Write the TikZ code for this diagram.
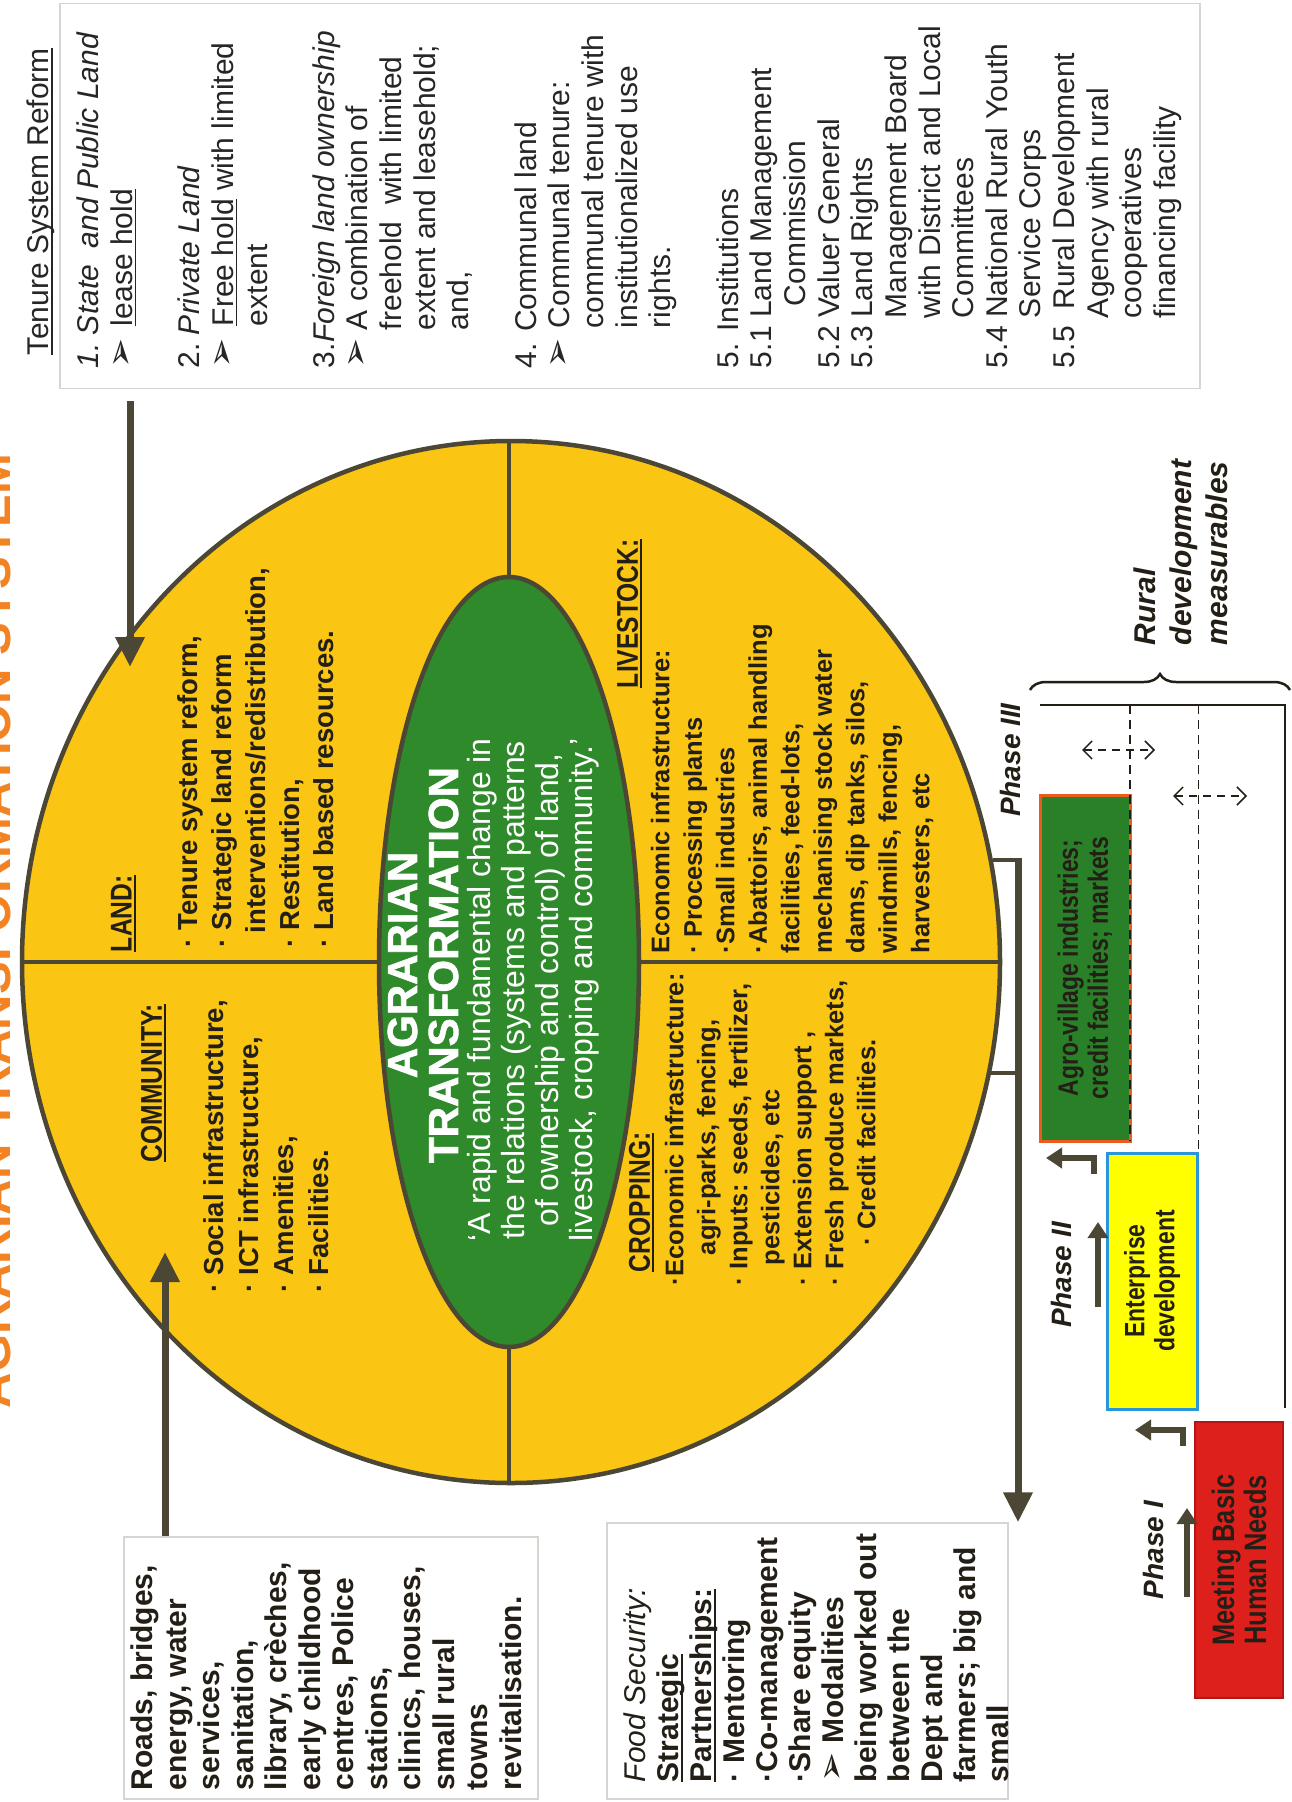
\documentclass[tikz,border=0pt]{standalone}
\usepackage{fontspec}
\setmainfont{Liberation Sans}
\newfontfamily\narrowfont{Liberation Sans}[FakeStretch=0.82]
\newfontfamily\symfont{DejaVu Sans}
\newfontfamily\heavyfont{Liberation Sans}[FakeBold=1.5]
\usetikzlibrary{arrows.meta,decorations.pathreplacing,shapes.geometric}

\definecolor{gold}{RGB}{251,197,20}
\definecolor{olive}{RGB}{76,70,52}
\definecolor{agrigreen}{RGB}{46,138,42}
\definecolor{ink}{RGB}{35,30,22}
\definecolor{greyink}{RGB}{38,38,38}
\definecolor{boxline}{RGB}{214,214,208}
\definecolor{titleorange}{RGB}{242,130,34}
\definecolor{phasered}{RGB}{222,32,28}
\definecolor{redline}{RGB}{180,20,20}
\definecolor{phaseyellow}{RGB}{255,255,0}
\definecolor{phaseblue}{RGB}{40,150,215}
\definecolor{boxgreen}{RGB}{42,128,40}
\definecolor{boxorange}{RGB}{235,90,30}

\newsavebox\ulbox
\newcommand\myul[1]{\sbox\ulbox{#1}\rlap{\rule[-4pt]{\wd\ulbox}{1.8pt}}\usebox\ulbox}
\newcommand\fsz[2]{\fontsize{#1}{#2}\selectfont}
\newcommand\arr{{\symfont\fontsize{36}{30}\selectfont ➢}}

\tikzset{
  rtext/.style={rotate=90, anchor=north west, align=left, inner sep=0pt, outer sep=0pt, text=ink},
  panel/.style={draw=boxline, line width=1.5pt, fill=white, rectangle, inner sep=0pt},
  bigarrow/.style={draw=olive, line width=7pt, -{Triangle[length=30pt,width=28pt]}},
  phasearrow/.style={draw=olive, line width=6pt, -{Triangle[length=16pt,width=20pt]}},
  phasebox/.style={rectangle, rotate=90, inner sep=0pt, align=center, text=ink, font=\narrowfont\bfseries\fsz{28}{30}},
  phaselabel/.style={rotate=90, font=\bfseries\itshape\fsz{28}{30}, text=ink, inner sep=0pt},
  dashline/.style={draw=ink, line width=1.5pt, dash pattern=on 9pt off 6pt},
  dblarrow/.style={draw=ink, line width=1.5pt, dash pattern=on 8pt off 6pt, {Straight Barb[length=9pt,width=18pt]}-{Straight Barb[length=9pt,width=18pt]}},
}

\begin{document}
\begin{tikzpicture}[x=1pt,y=-1pt]
\useasboundingbox (0,0) rectangle (1291,1802);
\fill[white] (0,0) rectangle (1291,1802);

% title (cut off at the page edge, as in the source)
\node[rotate=90, anchor=base, font=\bfseries\fsz{49}{52}, text=titleorange, inner sep=0pt] (title) at (10,931) {AGRARIAN TRANSFORMATION SYSTEM};

% side panels
\node[panel, minimum width=1140pt, minimum height=385pt] (tenurebox) at (630,196) {};
\node[panel, minimum width=414pt, minimum height=262pt] (roadsbox) at (331,1668) {};
\node[panel, minimum width=401pt, minimum height=276pt] (foodbox) at (807.5,1661) {};

% tenure text
\node[rtext, text=greyink, font=\fsz{30}{33}] (tenurehead) at (27,355) {\myul{Tenure System Reform}};
\node[rtext, text=greyink, font=\fsz{30}{33.65}] (tenuretext) at (77,368) {%
\makebox[33pt][l]{\textit{1.}}\textit{State \ and Public Land}\\
\makebox[42pt][l]{\arr}\myul{lease hold}\\[33.65pt]
\makebox[33pt][l]{2.}\textit{Private Land}\\
\makebox[42pt][l]{\arr}\myul{Free hold} with limited\\
\hspace*{42pt}extent\\[33.65pt]
3.\textit{Foreign land ownership}\\
\makebox[38pt][l]{\arr}A combination of\\
\hspace*{38pt}freehold \ with limited\\
\hspace*{38pt}extent and leasehold;\\
\hspace*{38pt}and,\\[33.65pt]
4. Communal land\\
\makebox[40pt][l]{\arr}Communal tenure:\\
\hspace*{40pt}communal tenure with\\
\hspace*{40pt}institutionalized use\\
\hspace*{40pt}rights.\\[33.65pt]
5. Institutions\\
5.1 Land Management\\
\hspace*{62pt}Commission\\
5.2 Valuer General\\
5.3 Land Rights\\
\hspace*{50pt}Management Board\\
\hspace*{50pt}with District and Local\\
\hspace*{50pt}Committees\\
5.4 National Rural Youth\\
\hspace*{50pt}Service Corps\\
5.5 \ Rural Development\\
\hspace*{50pt}Agency with rural\\
\hspace*{50pt}cooperatives\\
\hspace*{50pt}financing facility};

% roads text
\node[rtext, font=\bfseries\fsz{30}{33.5}] (roadstext) at (131,1790) {Roads, bridges,\\energy, water\\services,\\sanitation,\\library, crèches,\\early childhood\\centres, Police\\stations,\\clinics, houses,\\small rural\\towns\\revitalisation.};

% food security text
\node[rtext, font=\bfseries\fsz{30}{33}] (foodtext) at (624,1782) {{\mdseries\itshape Food Security:}\\\myul{Strategic}\\\myul{Partnerships:}\\· Mentoring\\·Co-management\\·Share equity\\\arr\ Modalities\\being worked out\\between the\\Dept and\\farmers; big and\\small};

% the big disc and its core
\node[ellipse, draw=olive, line width=4.5pt, fill=gold, minimum width=978pt, minimum height=1042pt, inner sep=0pt] (disc) at (511,962) {};
\node[ellipse, draw=olive, line width=4.5pt, fill=agrigreen, minimum width=260pt, minimum height=770pt, inner sep=0pt] (core) at (509,962) {};
\draw[olive, line width=3.5pt] (disc.west) -- (core.west);
\draw[olive, line width=3.5pt] (core.east) -- (disc.east);
\draw[olive, line width=3.5pt] (core.north |- disc.north) -- (core.north);
\draw[olive, line width=3.5pt] (core.south) -- (core.south |- disc.south);

% core text
\node[rotate=90, align=center, text=white, font=\heavyfont\bfseries\fsz{42}{41}, inner sep=0pt] (heading) at (423,965) {AGRARIAN\\TRANSFORMATION};
\node[rotate=90, align=center, text=white, font=\fsz{32}{34}, inner sep=0pt] (quote) at (533,990) {‘A rapid and fundamental change in\\the relations (systems and patterns\\of ownership and control) of land,\\livestock, cropping and community.’};

% quadrants
\node[rtext, font=\narrowfont\bfseries\fsz{30}{34}] (landhead) at (111,952) {\myul{LAND:}};
\node[rtext, font=\bfseries\fsz{27.5}{34}] (landtext) at (178,947) {· Tenure system reform,\\· Strategic land reform\\\hspace*{14pt}interventions/redistribution,\\· Restitution,\\· Land based resources.};

\node[rtext, font=\narrowfont\bfseries\fsz{30}{34}] (commhead) at (141,1162) {\myul{COMMUNITY:}};
\node[rtext, font=\bfseries\fsz{27.5}{35}] (commtext) at (204,1292) {· Social infrastructure,\\· ICT infrastructure,\\· Amenities,\\· Facilities.};

\node[rtext, font=\narrowfont\bfseries\fsz{30}{34}] (livehead) at (617,688) {\myul{LIVESTOCK:}};
\node[rtext, font=\bfseries\fsz{25.5}{32.5}] (livetext) at (651,953) {Economic infrastructure:\\· Processing plants\\·Small industries\\·Abattoirs, animal handling\\facilities, feed-lots,\\mechanising stock water\\dams, dip tanks, silos,\\windmills, fencing,\\harvesters, etc};

\node[rtext, font=\narrowfont\bfseries\fsz{30}{34}] (crophead) at (629,1272) {\myul{CROPPING:}};
\node[rtext, font=\bfseries\fsz{25.5}{32}] (croptext) at (665,1285) {·Economic infrastructure:\\\hspace*{30pt}agri-parks, fencing,\\· Inputs: seeds, fertilizer,\\\hspace*{20pt}pesticides, etc\\· Extension support ,\\· Fresh produce markets,\\\hspace*{40pt}· Credit facilities.};

% connectors into the disc
\coordinate (landtip) at (130,667);
\coordinate (commtip) at (165,1252);
\draw[bigarrow] ([yshift=-12pt]tenurebox.south -| landtip) -- (landtip);
\draw[bigarrow] (roadsbox.north -| commtip) -- (commtip);

% bracket to food security
\coordinate (tickA) at (disc.12.7);
\coordinate (tickB) at (disc.-13.5);
\coordinate (spine) at (1018,854);
\draw[olive, line width=4pt] (tickA) -- (tickA -| spine);
\draw[olive, line width=4pt] (tickB) -- (tickB -| spine);
\draw[bigarrow] ([yshift=2pt]tickA -| spine) -- (foodbox.north -| spine);

% phases
\node[phasebox, font=\narrowfont\bfseries\fsz{31}{32}, fill=phasered, draw=redline, line width=2pt, minimum width=276pt, minimum height=88pt] (needs) at (1239,1560) {Meeting Basic\\Human Needs};
\node[phasebox, fill=phaseyellow, draw=phaseblue, line width=3pt, minimum width=256pt, minimum height=90pt] (enterprise) at (1152,1281) {Enterprise\\development};
\node[phasebox, fill=boxgreen, draw=boxorange, line width=3pt, minimum width=346pt, minimum height=90pt] (agro) at (1085,968) {Agro-village industries;\\credit facilities; markets};

\node[phaselabel] (p1) at (1153,1550) {Phase I};
\node[phaselabel] (p2) at (1061,1275) {Phase II};
\node[phaselabel] (p3) at (1010,760) {Phase III};

\coordinate (a1s) at (1187,1597); \coordinate (a1e) at (1187,1508);
\draw[phasearrow] (a1s) -- (a1e);
\coordinate (a2s) at (1098,1307); \coordinate (a2e) at (1098,1222);
\draw[phasearrow] (a2s) -- (a2e);
\coordinate (b1s) at (1183,1446); \coordinate (b1c) at (1183,1430); \coordinate (b1e) at (1135,1430);
\draw[phasearrow] (b1s) -- (b1c) -- (b1e);
\coordinate (b2s) at (1094,1174); \coordinate (b2c) at (1094,1158); \coordinate (b2e) at (1046,1158);
\draw[phasearrow] (b2s) -- (b2c) -- (b2e);

% measurables frame
\coordinate (fl) at (1040,705); \coordinate (fr) at (1285,705); \coordinate (fb) at (1285,1408);
\draw[ink, line width=2.5pt] (fl) -- (fr) -- (fb);
\coordinate (d1) at (1130,705); \coordinate (d1b) at (1130,1141);
\draw[dashline] (d1) -- (d1b);
\draw[dashline] (enterprise.south east |- fl) -- (enterprise.south east);
\coordinate (m1l) at (1082,750); \coordinate (m1r) at (1155,750);
\draw[dblarrow] (m1l) -- (m1r);
\coordinate (m2l) at (1173,796); \coordinate (m2r) at (1247,796);
\draw[dblarrow] (m2l) -- (m2r);

\coordinate (braceL) at (1030,690); \coordinate (braceR) at (1290,690);
\draw[ink, line width=2.5pt, decorate, decoration={brace, amplitude=16pt}] (braceL) -- (braceR);
\node[rtext, font=\bfseries\itshape\fsz{30}{36}] (measure) at (1134,645) {Rural\\development\\measurables};

\end{tikzpicture}
\end{document}
